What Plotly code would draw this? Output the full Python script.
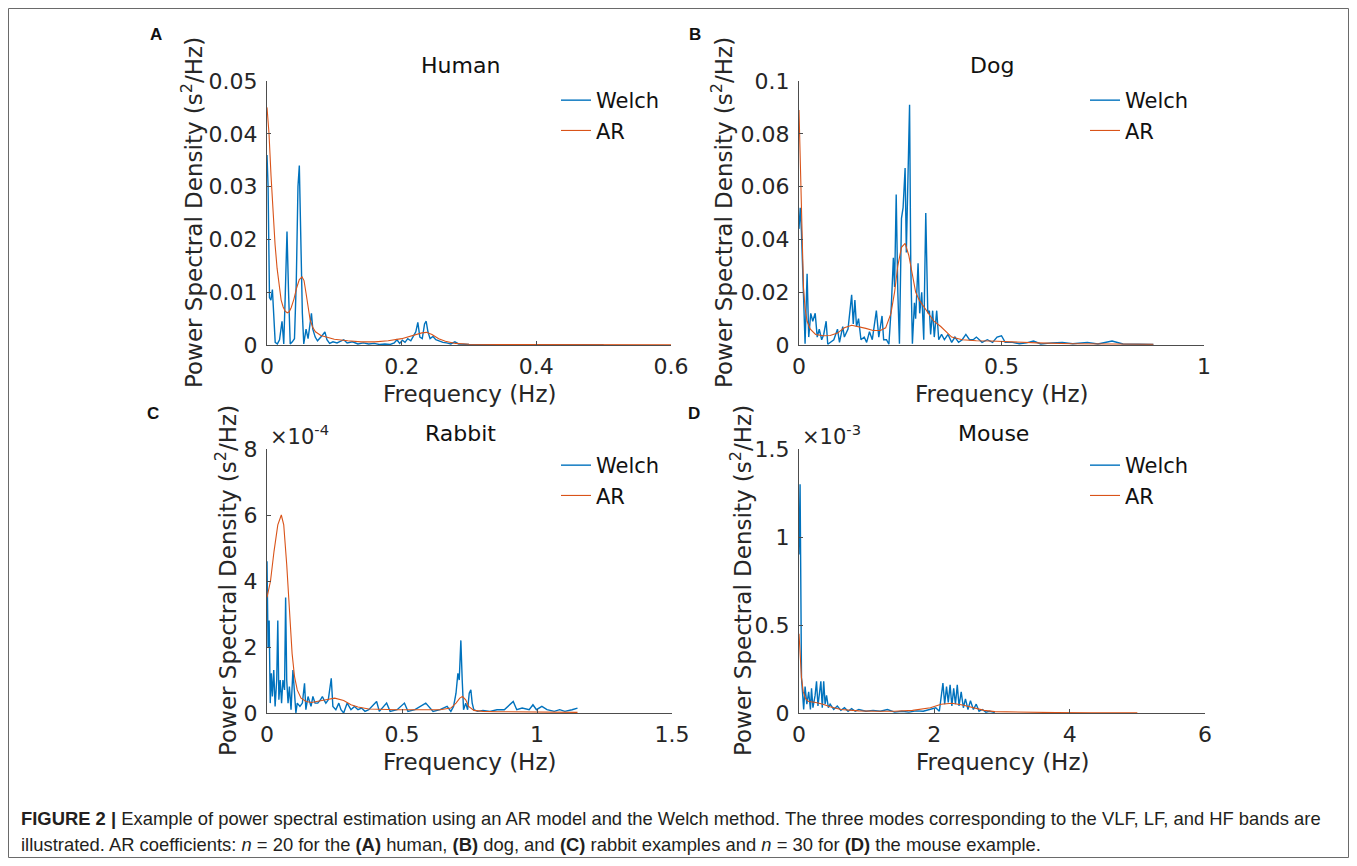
import plotly.graph_objects as go

# ---------------- data ----------------
human_welch_f = [0.000, 0.0016, 0.0037, 0.0058, 0.008, 0.010, 0.0122, 0.0154, 0.0186, 0.0223, 0.0249, 0.027, 0.0297, 0.032, 0.0345, 0.0376, 0.0408, 0.0435, 0.046, 0.048, 0.050, 0.0525, 0.0546, 0.058, 0.061, 0.064, 0.066, 0.068, 0.0716, 0.075, 0.078, 0.082, 0.086, 0.089, 0.093, 0.098, 0.104, 0.110, 0.114, 0.119, 0.127, 0.135, 0.143, 0.151, 0.159, 0.167, 0.175, 0.183, 0.189, 0.193, 0.197, 0.201, 0.205, 0.209, 0.2136, 0.217, 0.221, 0.224, 0.227, 0.2306, 0.234, 0.2364, 0.239, 0.2422, 0.2465, 0.2507, 0.256, 0.2613, 0.2666, 0.273, 0.279, 0.2846, 0.30, 0.35, 0.40, 0.45, 0.50]
human_welch_p = [0.036, 0.030, 0.009, 0.0085, 0.0105, 0.006, 0.0005, 0.0002, 0.001, 0.0045, 0.0002, 0.009, 0.0215, 0.010, 0.0002, 0.0006, 0.0012, 0.012, 0.030, 0.034, 0.022, 0.006, 0.0002, 0.003, 0.0012, 0.004, 0.006, 0.003, 0.0015, 0.0008, 0.0012, 0.0018, 0.0025, 0.001, 0.0003, 0.0006, 0.0004, 0.0008, 0.001, 0.0004, 0.0006, 0.0002, 0.0004, 0.0002, 0.0003, 0.0001, 0.0002, 0.0001, 0.0004, 0.001, 0.0003, 0.0009, 0.0005, 0.0012, 0.0008, 0.0016, 0.0025, 0.0043, 0.0015, 0.0012, 0.004, 0.0045, 0.0025, 0.0012, 0.0016, 0.001, 0.0007, 0.0005, 0.0004, 0.0002, 0.0006, 0.0002, 0.0001, 0.00005, 0.00005, 0.00003, 0.00003]
human_ar_f = [0, 0.003, 0.006, 0.009, 0.012, 0.015, 0.018, 0.021, 0.024, 0.027, 0.030, 0.033, 0.036, 0.040, 0.044, 0.048, 0.052, 0.055, 0.058, 0.061, 0.064, 0.068, 0.072, 0.08, 0.09, 0.10, 0.12, 0.14, 0.16, 0.18, 0.20, 0.21, 0.22, 0.23, 0.237, 0.245, 0.255, 0.265, 0.28, 0.30, 0.35, 0.40, 0.50, 0.60]
human_ar_p = [0.045, 0.040, 0.032, 0.025, 0.019, 0.0145, 0.011, 0.0085, 0.0072, 0.0064, 0.0061, 0.0063, 0.0071, 0.0087, 0.0108, 0.0124, 0.0129, 0.0122, 0.0098, 0.0070, 0.0048, 0.0033, 0.0025, 0.0018, 0.0014, 0.0011, 0.0008, 0.0006, 0.0006, 0.0008, 0.0012, 0.0016, 0.0020, 0.0023, 0.0024, 0.0020, 0.0012, 0.0007, 0.0003, 0.00015, 0.0001, 0.00007, 0.00005, 0.00005]

dog_welch_f = [0.000, 0.003, 0.006, 0.011, 0.015, 0.020, 0.024, 0.029, 0.034, 0.040, 0.045, 0.050, 0.056, 0.061, 0.067, 0.071, 0.077, 0.086, 0.095, 0.100, 0.108, 0.112, 0.121, 0.130, 0.134, 0.138, 0.142, 0.147, 0.153, 0.161, 0.167, 0.174, 0.181, 0.191, 0.197, 0.205, 0.209, 0.216, 0.222, 0.228, 0.233, 0.236, 0.240, 0.244, 0.248, 0.253, 0.257, 0.262, 0.265, 0.269, 0.273, 0.276, 0.280, 0.285, 0.288, 0.294, 0.298, 0.303, 0.308, 0.313, 0.318, 0.322, 0.325, 0.330, 0.334, 0.340, 0.345, 0.352, 0.359, 0.368, 0.377, 0.385, 0.394, 0.403, 0.412, 0.421, 0.430, 0.438, 0.452, 0.465, 0.478, 0.489, 0.500, 0.509, 0.527, 0.544, 0.562, 0.579, 0.597, 0.624, 0.650, 0.676, 0.712, 0.738, 0.773, 0.800, 0.835, 0.875]
dog_welch_p = [0.044, 0.052, 0.043, 0.015, 0.0005, 0.027, 0.003, 0.012, 0.009, 0.012, 0.003, 0.006, 0.002, 0.004, 0.009, 0.0003, 0.001, 0.002, 0.006, 0.001, 0.007, 0.003, 0.006, 0.019, 0.008, 0.017, 0.007, 0.010, 0.002, 0.003, 0.001, 0.005, 0.002, 0.013, 0.003, 0.011, 0.002, 0.002, 0.0003, 0.015, 0.033, 0.022, 0.057, 0.020, 0.0005, 0.048, 0.052, 0.067, 0.035, 0.064, 0.091, 0.030, 0.0005, 0.016, 0.010, 0.031, 0.012, 0.020, 0.002, 0.050, 0.012, 0.013, 0.004, 0.013, 0.003, 0.013, 0.002, 0.004, 0.002, 0.004, 0.001, 0.003, 0.001, 0.002, 0.004, 0.002, 0.002, 0.003, 0.001, 0.002, 0.001, 0.003, 0.0035, 0.001, 0.001, 0.0005, 0.0008, 0.0015, 0.0004, 0.0008, 0.001, 0.0005, 0.001, 0.0004, 0.0015, 0.0004, 0.0003, 0.0002]
dog_ar_f = [0.000, 0.003, 0.005, 0.008, 0.011, 0.015, 0.020, 0.028, 0.041, 0.060, 0.077, 0.095, 0.112, 0.130, 0.147, 0.165, 0.183, 0.201, 0.214, 0.227, 0.236, 0.244, 0.253, 0.262, 0.271, 0.280, 0.288, 0.297, 0.306, 0.315, 0.324, 0.333, 0.350, 0.363, 0.377, 0.403, 0.438, 0.474, 0.518, 0.588, 0.676, 0.765, 0.875]
dog_ar_p = [0.089, 0.070, 0.050, 0.035, 0.022, 0.014, 0.009, 0.006, 0.004, 0.0035, 0.0036, 0.0045, 0.0065, 0.0075, 0.0070, 0.0063, 0.0055, 0.0055, 0.0065, 0.012, 0.020, 0.030, 0.037, 0.0385, 0.034, 0.026, 0.020, 0.017, 0.015, 0.013, 0.011, 0.009, 0.007, 0.005, 0.003, 0.002, 0.0016, 0.0015, 0.0012, 0.0008, 0.0005, 0.0004, 0.0003]

rabbit_welch_f = [0.000, 0.004, 0.008, 0.012, 0.016, 0.020, 0.025, 0.030, 0.036, 0.040, 0.044, 0.049, 0.054, 0.059, 0.065, 0.069, 0.073, 0.078, 0.083, 0.089, 0.096, 0.102, 0.107, 0.112, 0.122, 0.131, 0.139, 0.144, 0.152, 0.163, 0.170, 0.178, 0.188, 0.198, 0.205, 0.211, 0.218, 0.227, 0.238, 0.244, 0.255, 0.266, 0.274, 0.284, 0.297, 0.311, 0.324, 0.337, 0.350, 0.363, 0.377, 0.406, 0.416, 0.443, 0.456, 0.482, 0.509, 0.522, 0.548, 0.588, 0.615, 0.641, 0.667, 0.681, 0.691, 0.700, 0.707, 0.712, 0.718, 0.723, 0.728, 0.736, 0.743, 0.749, 0.755, 0.760, 0.766, 0.780, 0.800, 0.826, 0.852, 0.879, 0.912, 0.925, 0.945, 0.971, 0.985, 0.998, 1.018, 1.037, 1.064, 1.084, 1.103, 1.130, 1.150]
rabbit_welch_p = [4.6e-4, 2.0e-4, 2.8e-4, 0.3e-4, 1.2e-4, 0.5e-4, 1.3e-4, 0.2e-4, 1.0e-4, 2.8e-4, 0.4e-4, 1.0e-4, 0.3e-4, 1.0e-4, 0.7e-4, 3.5e-4, 1.0e-4, 0.3e-4, 0.8e-4, 0.1e-4, 1.3e-4, 0.5e-4, 0.0e-4, 0.3e-4, 0.2e-4, 0.3e-4, 0.9e-4, 0.1e-4, 0.5e-4, 0.2e-4, 0.5e-4, 0.3e-4, 0.3e-4, 0.4e-4, 0.5e-4, 0.4e-4, 0.3e-4, 0.4e-4, 1.05e-4, 0.2e-4, 0.1e-4, 0.3e-4, 0.1e-4, 0.0e-4, 0.3e-4, 0.1e-4, 0.2e-4, 0.1e-4, 0.15e-4, 0.05e-4, 0.1e-4, 0.35e-4, 0.05e-4, 0.3e-4, 0.05e-4, 0.1e-4, 0.3e-4, 0.05e-4, 0.1e-4, 0.3e-4, 0.05e-4, 0.1e-4, 0.2e-4, 0.05e-4, 0.2e-4, 0.6e-4, 1.2e-4, 1.0e-4, 2.2e-4, 1.0e-4, 0.1e-4, 0.3e-4, 0.1e-4, 0.6e-4, 0.7e-4, 0.3e-4, 0.1e-4, 0.05e-4, 0.08e-4, 0.05e-4, 0.1e-4, 0.1e-4, 0.35e-4, 0.1e-4, 0.15e-4, 0.1e-4, 0.25e-4, 0.1e-4, 0.2e-4, 0.1e-4, 0.05e-4, 0.1e-4, 0.05e-4, 0.1e-4, 0.15e-4]
rabbit_ar_f = [0.000, 0.013, 0.026, 0.040, 0.053, 0.062, 0.073, 0.083, 0.093, 0.102, 0.112, 0.126, 0.145, 0.165, 0.192, 0.218, 0.251, 0.284, 0.311, 0.337, 0.377, 0.430, 0.482, 0.562, 0.641, 0.681, 0.700, 0.714, 0.724, 0.736, 0.747, 0.766, 0.800, 0.852, 0.985, 1.150]
rabbit_ar_p = [3.5e-4, 4.0e-4, 4.9e-4, 5.7e-4, 6.0e-4, 5.7e-4, 4.5e-4, 3.0e-4, 1.8e-4, 1.1e-4, 0.7e-4, 0.45e-4, 0.35e-4, 0.32e-4, 0.35e-4, 0.4e-4, 0.45e-4, 0.38e-4, 0.25e-4, 0.18e-4, 0.12e-4, 0.1e-4, 0.1e-4, 0.1e-4, 0.1e-4, 0.15e-4, 0.3e-4, 0.45e-4, 0.5e-4, 0.4e-4, 0.2e-4, 0.08e-4, 0.05e-4, 0.04e-4, 0.03e-4, 0.02e-4]

mouse_welch_f = [0.000, 0.016, 0.037, 0.053, 0.069, 0.090, 0.116, 0.143, 0.169, 0.185, 0.206, 0.238, 0.259, 0.280, 0.302, 0.323, 0.344, 0.365, 0.386, 0.407, 0.434, 0.460, 0.513, 0.566, 0.619, 0.672, 0.725, 0.778, 0.831, 0.884, 0.989, 1.095, 1.201, 1.307, 1.413, 1.519, 1.624, 1.730, 1.836, 1.942, 2.021, 2.074, 2.127, 2.153, 2.180, 2.206, 2.233, 2.259, 2.286, 2.312, 2.339, 2.365, 2.397, 2.429, 2.460, 2.497, 2.534, 2.577, 2.619, 2.661, 2.709, 2.762, 2.815, 2.894]
mouse_welch_p = [0.9e-3, 1.3e-3, 0.2e-3, 0.12e-3, 0.02e-3, 0.15e-3, 0.05e-3, 0.12e-3, 0.02e-3, 0.14e-3, 0.03e-3, 0.1e-3, 0.18e-3, 0.04e-3, 0.1e-3, 0.18e-3, 0.03e-3, 0.18e-3, 0.05e-3, 0.1e-3, 0.03e-3, 0.05e-3, 0.02e-3, 0.04e-3, 0.015e-3, 0.03e-3, 0.01e-3, 0.025e-3, 0.01e-3, 0.02e-3, 0.01e-3, 0.015e-3, 0.01e-3, 0.02e-3, 0.005e-3, 0.01e-3, 0.005e-3, 0.012e-3, 0.01e-3, 0.02e-3, 0.03e-3, 0.01e-3, 0.17e-3, 0.05e-3, 0.15e-3, 0.06e-3, 0.16e-3, 0.04e-3, 0.14e-3, 0.05e-3, 0.16e-3, 0.04e-3, 0.12e-3, 0.03e-3, 0.08e-3, 0.02e-3, 0.07e-3, 0.02e-3, 0.05e-3, 0.01e-3, 0.02e-3, 0.005e-3, 0.01e-3, 0.003e-3]
mouse_ar_f = [0.000, 0.016, 0.037, 0.063, 0.100, 0.143, 0.249, 0.354, 0.460, 0.619, 0.884, 1.148, 1.413, 1.677, 1.942, 2.100, 2.259, 2.418, 2.577, 2.735, 2.894, 3.265, 3.794, 4.323, 5.000]
mouse_ar_p = [0.45e-3, 0.35e-3, 0.2e-3, 0.12e-3, 0.08e-3, 0.065e-3, 0.06e-3, 0.05e-3, 0.035e-3, 0.02e-3, 0.012e-3, 0.01e-3, 0.01e-3, 0.015e-3, 0.03e-3, 0.05e-3, 0.055e-3, 0.045e-3, 0.03e-3, 0.015e-3, 0.008e-3, 0.004e-3, 0.002e-3, 0.0015e-3, 0.001e-3]

panel_titles = ["Human", "Dog", "Rabbit", "Mouse"]
panel_letters = ["A", "B", "C", "D"]
x_ranges = [[0, 0.6], [0, 1], [0, 1.5], [0, 6]]
y_ranges = [[0, 0.05], [0, 0.1], [0, 8e-4], [0, 1.5e-3]]
x_tickvals = [[0, 0.2, 0.4, 0.6], [0, 0.5, 1], [0, 0.5, 1, 1.5], [0, 2, 4, 6]]
x_ticktext = [["0", "0.2", "0.4", "0.6"], ["0", "0.5", "1"], ["0", "0.5", "1", "1.5"], ["0", "2", "4", "6"]]
y_tickvals = [[0, 0.01, 0.02, 0.03, 0.04, 0.05], [0, 0.02, 0.04, 0.06, 0.08, 0.1],
              [0, 2e-4, 4e-4, 6e-4, 8e-4], [0, 0.5e-3, 1e-3, 1.5e-3]]
y_ticktext = [["0", "0.01", "0.02", "0.03", "0.04", "0.05"], ["0", "0.02", "0.04", "0.06", "0.08", "0.1"],
              ["0", "2", "4", "6", "8"], ["0", "0.5", "1", "1.5"]]
exponents = [None, None, "×10<sup>-4</sup>", "×10<sup>-3</sup>"]

welch_f = [human_welch_f, dog_welch_f, rabbit_welch_f, mouse_welch_f]
welch_p = [human_welch_p, dog_welch_p, rabbit_welch_p, mouse_welch_p]
ar_f = [human_ar_f, dog_ar_f, rabbit_ar_f, mouse_ar_f]
ar_p = [human_ar_p, dog_ar_p, rabbit_ar_p, mouse_ar_p]

# ---------------- layout ----------------
# The page body keeps its default 8px margin, so the figure is made 16px smaller
# and every position below is given in window pixels and converted with OFF.
OFF = 8
W, H = 1357 - 2 * OFF, 866 - 2 * OFF
FONT = "DejaVu Sans"
TXT = "#262626"
AXC = "#4d4d4d"
BLUE = "#0072BD"
ORANGE = "#D95319"


def fx(px):
    return (px - OFF) / W


def fy(py):
    return 1 - (py - OFF) / H


# window-pixel boxes of the axes (left, right, top, bottom)
boxes = [(267, 671, 81, 345), (799, 1204, 81, 345), (267, 672, 449, 713), (799, 1205, 449, 713)]
legend_px = [(556, 80), (1085, 80), (556, 445), (1085, 445)]
ylabel_px = [192, 722, 226, 741]
letter_px = [(156, 35), (695, 35), (153, 413), (694, 413)]

fig = go.Figure()
layout = dict(width=W, height=H, autosize=False,
              margin=dict(l=0, r=0, t=0, b=0, pad=0, autoexpand=False),
              paper_bgcolor="white", plot_bgcolor="white", showlegend=True,
              font=dict(family=FONT, color=TXT))
annotations = []

for i in range(4):
    ax = "" if i == 0 else str(i + 1)
    lg = "legend" if i == 0 else "legend" + str(i + 1)
    L, R, T, B = boxes[i]
    fig.add_trace(go.Scatter(x=welch_f[i], y=welch_p[i], mode="lines", name="Welch",
                             line=dict(color=BLUE, width=1.4), xaxis="x" + ax, yaxis="y" + ax,
                             legend=lg))
    fig.add_trace(go.Scatter(x=ar_f[i], y=ar_p[i], mode="lines", name="AR",
                             line=dict(color=ORANGE, width=1.1), xaxis="x" + ax, yaxis="y" + ax,
                             legend=lg))
    layout["xaxis" + ax] = dict(domain=[fx(L), fx(R)], range=x_ranges[i], anchor="y" + ax,
                                tickvals=x_tickvals[i], ticktext=x_ticktext[i],
                                ticks="inside", ticklen=4, tickcolor=AXC, showline=True,
                                linecolor=AXC, linewidth=1, showgrid=False, zeroline=False,
                                ticklabelstandoff=2,
                                tickfont=dict(family=FONT, size=22, color=TXT))
    layout["yaxis" + ax] = dict(domain=[fy(B), fy(T)], range=y_ranges[i], anchor="x" + ax,
                                tickvals=y_tickvals[i], ticktext=y_ticktext[i],
                                ticks="inside", ticklen=4, tickcolor=AXC, showline=True,
                                linecolor=AXC, linewidth=1, showgrid=False, zeroline=False,
                                ticklabelstandoff=4,
                                tickfont=dict(family=FONT, size=22, color=TXT))
    lx, ly = legend_px[i]
    layout[lg] = dict(x=fx(lx), y=fy(ly), xanchor="left", yanchor="top",
                      bgcolor="rgba(0,0,0,0)", borderwidth=0,
                      font=dict(family=FONT, size=21, color="#111111"),
                      itemwidth=30, tracegroupgap=0)
    xd, yd = "x" + ax + " domain", "y" + ax + " domain"
    # title
    annotations.append(dict(text=panel_titles[i], xref=xd, yref=yd, x=0.5, y=1, xshift=-9, yshift=16,
                            showarrow=False, xanchor="center", yanchor="middle",
                            font=dict(family=FONT, size=22, color="#111111")))
    # x label
    annotations.append(dict(text="Frequency (Hz)", xref=xd, yref=yd, x=0.5, y=0, yshift=-49,
                            showarrow=False, xanchor="center", yanchor="middle",
                            font=dict(family=FONT, size=23, color=TXT)))
    # y label
    annotations.append(dict(text="Power Spectral Density (s<sup>2</sup>/Hz)", xref="paper", yref=yd,
                            x=fx(ylabel_px[i]), y=0.5, showarrow=False, textangle=-90,
                            xanchor="center", yanchor="middle",
                            font=dict(family=FONT, size=23, color=TXT)))
    # exponent
    if exponents[i]:
        annotations.append(dict(text=exponents[i], xref=xd, yref=yd, x=0, y=1, xshift=1, yshift=14,
                                showarrow=False, xanchor="left", yanchor="middle",
                                font=dict(family=FONT, size=21, color=TXT)))
    # panel letter
    px_, py_ = letter_px[i]
    annotations.append(dict(text="<b>" + panel_letters[i] + "</b>", xref="paper", yref="paper",
                            x=fx(px_), y=fy(py_), showarrow=False, xanchor="center", yanchor="middle",
                            font=dict(family="Liberation Sans", size=17, color="#111111")))

cap1 = ("<b>FIGURE 2 |</b> Example of power spectral estimation using an AR model and the Welch method. "
        "The three modes corresponding to the VLF, LF, and HF bands are")
cap2 = ("illustrated. AR coefficients: <i>n</i> = 20 for the <b>(A)</b> human, <b>(B)</b> dog, and "
        "<b>(C)</b> rabbit examples and <i>n</i> = 30 for <b>(D)</b> the mouse example.")
for txt, yy in [(cap1, 818), (cap2, 844)]:
    annotations.append(dict(text=txt, xref="paper", yref="paper", x=fx(19), y=fy(yy),
                            showarrow=False, xanchor="left", yanchor="middle",
                            font=dict(family="Liberation Sans", size=18.4, color="#231f20")))

layout["annotations"] = annotations
layout["shapes"] = [dict(type="rect", xref="paper", yref="paper", x0=0.5 / W, x1=1 - 0.5 / W,
                         y0=0.5 / H, y1=1 - 0.5 / H, line=dict(color="#6a6a6a", width=1))]
fig.update_layout(**layout)
fig.write_html("out.html")
